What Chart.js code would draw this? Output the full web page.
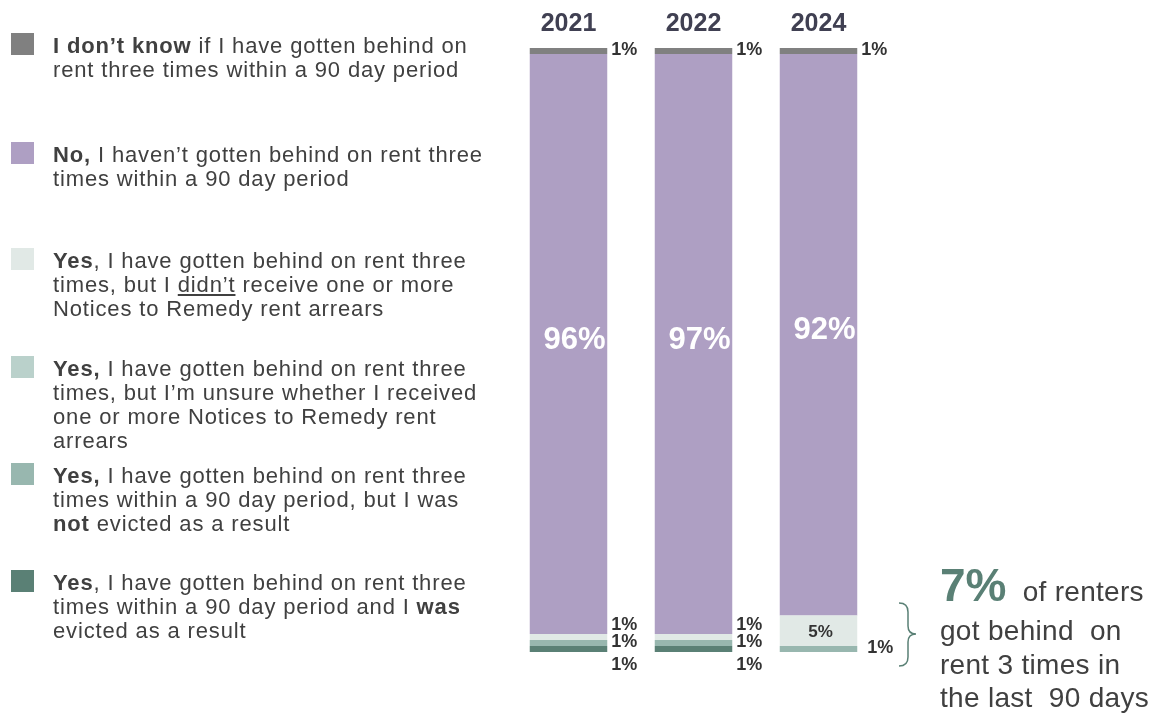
<!DOCTYPE html>
<html>
<head>
<meta charset="utf-8">
<script src="https://cdn.jsdelivr.net/npm/chart.js@4.4.1/dist/chart.umd.min.js"></script>
<style>
  html, body { margin: 0; padding: 0; background: #fff; }
  body { width: 1155px; height: 715px; position: relative; overflow: hidden;
         font-family: "Liberation Sans", Arial, sans-serif; color: #404040; }
  #chart { position: absolute; left: 0; top: 0; }
  .entry { position: absolute; left: 11px; display: flex; }
  .swatch { width: 23px; height: 22px; flex: none; }
  .entry .txt { margin-left: 19px; margin-top: 1px; font-size: 22px; line-height: 24px; letter-spacing: 0.85px;
                white-space: nowrap; }
  .note { position: absolute; left: 940px; font-size: 28px; letter-spacing: 0.3px; white-space: pre; color: #404040; }
  .note b { font-size: 46px; letter-spacing: 0; color: #5a8075; }
</style>
</head>
<body>
<canvas id="chart" width="1155" height="715"></canvas>
<div id="legend"></div>
<svg style="position:absolute;left:0;top:0" width="1155" height="715">
  <path d="M899 603 Q908 603 908 612 L908 626 Q908 634 916 634 Q908 634 908 642 L908 657 Q908 666 899 666"
        fill="none" stroke="#5a8075" stroke-width="1.5"/>
</svg>
<div class="note" style="top:560px;line-height:50px"><b>7%</b>  of renters</div>
<div class="note" style="top:614px;line-height:34px">got behind  on</div>
<div class="note" style="top:648px;line-height:34px">rent 3 times in</div>
<div class="note" style="top:681px;line-height:34px">the last  90 days</div>

<script>
// survey waves
const years = ['2021', '2022', '2024'];

// shares (%) as labelled in the chart, bottom of the stack first
const yesEvicted    = [1, 1, 0];
const yesNotEvicted = [1, 1, 1];
const yesUnsure     = [0, 0, 0];
const yesNoNotice   = [1, 1, 5];
const noBehind      = [96, 97, 92];
const dontKnow      = [1, 1, 1];

const legendText = [
    '<b>I don’t know</b> if I have gotten behind on<br>rent three times within a 90 day period',
    '<b>No,</b> I haven’t gotten behind on rent three<br>times within a 90 day period',
    '<b>Yes</b>, I have gotten behind on rent three<br>times, but I <u>didn’t</u> receive one or more<br>Notices to Remedy rent arrears',
    '<b>Yes,</b> I have gotten behind on rent three<br>times, but I’m unsure whether I received<br>one or more Notices to Remedy rent<br>arrears',
    '<b>Yes,</b> I have gotten behind on rent three<br>times within a 90 day period, but I was<br><b>not</b> evicted as a result',
    '<b>Yes</b>, I have gotten behind on rent three<br>times within a 90 day period and I <b>was</b><br>evicted as a result'
];
const legendTops = [33, 142, 248, 356, 463, 570];

const series = [yesEvicted, yesNotEvicted, yesUnsure, yesNoNotice, noBehind, dontKnow];
const colors = ['#5a8075', '#98b7af', '#bad1cb', '#e1e9e6', '#ae9fc3', '#808080'];
const modes  = ['below', 'right', 'right', 'above', 'big', 'right'];

// the printed percentages don't always add to 100, so each bar is scaled to the full height
const totals = years.map((_, i) => series.reduce((s, arr) => s + arr[i], 0));
const share = arr => arr.map((v, i) => v / totals[i] * 100);

const FONT = '"Liberation Sans", Arial, sans-serif';

const segLabels = {
    id: 'segLabels',
    afterDatasetsDraw(chart) {
        const ctx = chart.ctx;
        ctx.save();
        ctx.textBaseline = 'middle';
        chart.data.datasets.forEach((ds, di) => {
            const meta = chart.getDatasetMeta(di);
            meta.data.forEach((bar, i) => {
                const v = ds.rawValues[i];
                if (!v) return;
                const p = bar.getProps(['x', 'y', 'base', 'width'], true);
                const top = Math.min(p.y, p.base);
                const bottom = Math.max(p.y, p.base);
                const mid = (top + bottom) / 2;
                const right = p.x + p.width / 2;
                const txt = v + '%';
                if (ds.labelMode === 'big') {
                    ctx.font = 'bold 31px ' + FONT;
                    ctx.fillStyle = '#ffffff';
                    ctx.textAlign = 'center';
                    ctx.fillText(txt, p.x + 6, mid - 4);
                    return;
                }
                if (v >= 3) {
                    ctx.font = 'bold 17px ' + FONT;
                    ctx.fillStyle = '#333333';
                    ctx.textAlign = 'center';
                    ctx.fillText(txt, p.x + 2, mid + 2);
                    return;
                }
                ctx.font = 'bold 18px ' + FONT;
                ctx.fillStyle = '#333333';
                ctx.textAlign = 'left';
                let y = mid;
                let x = right + 4;
                if (ds.labelMode === 'above') y = mid - 11;
                if (ds.labelMode === 'below') y = bottom + 14;
                // lowest visible piece of a bar sits a little further out
                if (ds.labelMode === 'right' && di > 0 && bottom >= chart.chartArea.bottom - 1) x = right + 10;
                ctx.fillText(txt, x, y - 1);
            });
        });
        ctx.restore();
    }
};

function buildLegend() {
    const box = document.getElementById('legend');
    legendText.forEach((html, k) => {
        const colour = colors[colors.length - 1 - k];
        const el = document.createElement('div');
        el.className = 'entry';
        el.style.top = legendTops[k] + 'px';
        el.innerHTML = '<div class="swatch" style="background:' + colour + '"></div><div class="txt">' + html + '</div>';
        box.appendChild(el);
    });
}

function initChart() {
    const ctx = document.getElementById('chart').getContext('2d');
    const datasets = series.map((arr, k) => ({
        data: share(arr),
        rawValues: arr,
        labelMode: modes[k],
        backgroundColor: colors[k],
        borderWidth: 0,
        barPercentage: 0.62,
        categoryPercentage: 1.0
    }));

    new Chart(ctx, {
        type: 'bar',
        data: { labels: years, datasets: datasets },
        options: {
            responsive: false,
            animation: false,
            devicePixelRatio: 1,
            layout: { padding: { left: 506, right: 274, top: 0, bottom: 63 } },
            plugins: { legend: { display: false }, tooltip: { enabled: false } },
            scales: {
                x: {
                    stacked: true,
                    position: 'top',
                    grid: { display: false, drawTicks: false },
                    border: { display: false },
                    ticks: { padding: 9, color: '#404052', font: { family: FONT, size: 25, weight: 'bold' } }
                },
                y: { stacked: true, display: false, min: 0, max: 100 }
            }
        },
        plugins: [segLabels]
    });
}

document.addEventListener('DOMContentLoaded', () => {
    buildLegend();
    initChart();
});
</script>
</body>
</html>
